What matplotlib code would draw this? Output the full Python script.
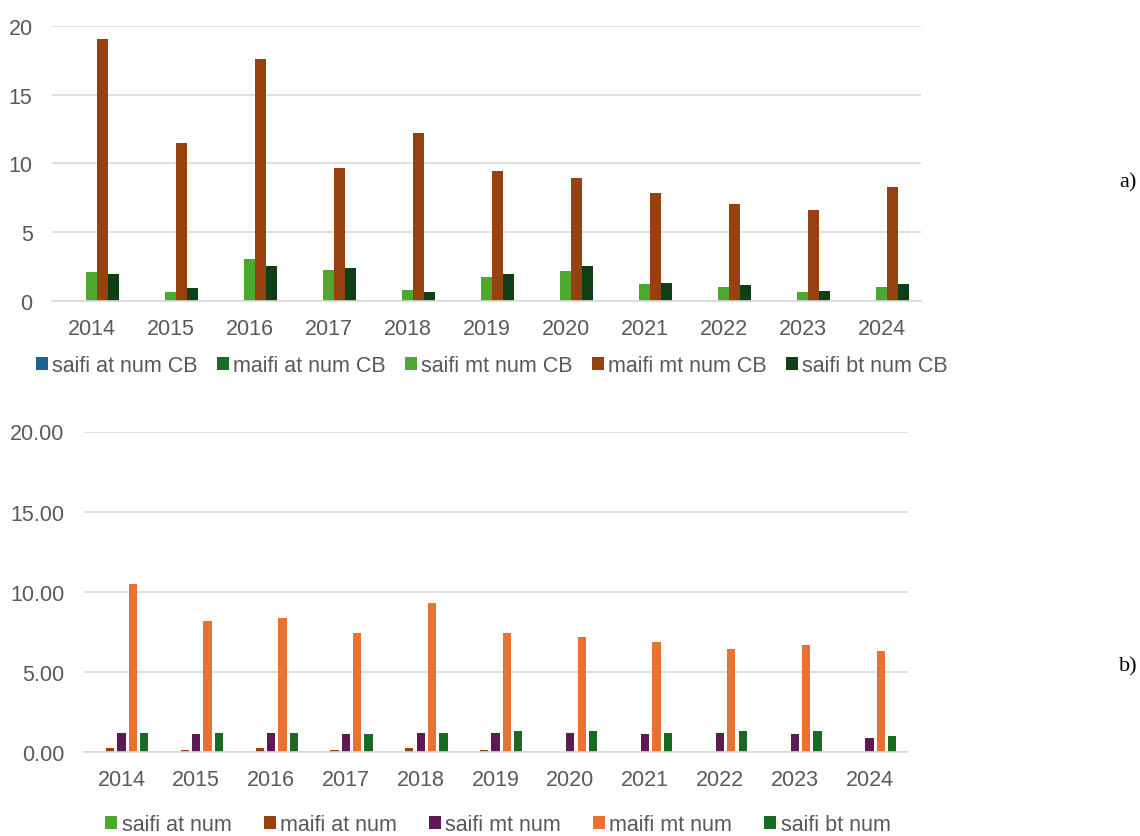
import matplotlib
matplotlib.use("Agg")
import matplotlib.pyplot as plt
import numpy as np

years = ["2014", "2015", "2016", "2017", "2018", "2019", "2020", "2021", "2022", "2023", "2024"]

# panel a) - values per year
saifi_at_cb = [0, 0, 0, 0, 0, 0, 0, 0, 0, 0, 0]
maifi_at_cb = [0, 0, 0, 0, 0, 0, 0, 0, 0, 0, 0]
saifi_mt_cb = [2.13, 0.63, 3.08, 2.25, 0.82, 1.75, 2.16, 1.24, 1.04, 0.63, 1.04]
maifi_mt_cb = [19.0, 11.5, 17.6, 9.67, 12.2, 9.48, 8.97, 7.85, 7.03, 6.64, 8.27]
saifi_bt_cb = [1.94, 0.92, 2.57, 2.38, 0.63, 1.94, 2.57, 1.33, 1.14, 0.73, 1.24]

# panel b)
saifi_at = [0, 0, 0, 0, 0, 0, 0, 0, 0, 0, 0]
maifi_at = [0.25, 0.12, 0.25, 0.12, 0.25, 0.12, 0, 0, 0, 0, 0]
saifi_mt = [1.22, 1.12, 1.22, 1.12, 1.22, 1.22, 1.22, 1.12, 1.22, 1.12, 0.89]
maifi_mt = [10.47, 8.19, 8.39, 7.42, 9.29, 7.42, 7.21, 6.88, 6.44, 6.67, 6.33]
saifi_bt = [1.22, 1.22, 1.22, 1.12, 1.22, 1.33, 1.33, 1.22, 1.33, 1.33, 1.0]

labels_a = ["saifi at num CB", "maifi at num CB", "saifi mt num CB", "maifi mt num CB", "saifi bt num CB"]
colors_a = ["#1f6391", "#1e6b24", "#4ea72e", "#974010", "#0f3f16"]
labels_b = ["saifi at num", "maifi at num", "saifi mt num", "maifi mt num", "saifi bt num"]
colors_b = ["#4ea72e", "#974010", "#5e1a54", "#e97132", "#196b24"]

txt = "#595959"
grid = "#d9d9d9"
plt.rcParams['font.family'] = ['Liberation Sans', 'DejaVu Sans']

fig = plt.figure(figsize=(11.4, 8.37), dpi=100)
W, H = 1140.0, 837.0


def style(ax, fmt, ypad, xpad):
    for s in ["top", "right", "left"]:
        ax.spines[s].set_visible(False)
    ax.spines["bottom"].set_color(grid)
    ax.spines["bottom"].set_linewidth(1.2)
    ax.yaxis.grid(True, color=grid, linewidth=1.2)
    ax.set_axisbelow(True)
    ax.tick_params(axis="both", length=0, labelsize=15.5, colors=txt)
    ax.tick_params(axis="y", pad=ypad)
    ax.tick_params(axis="x", pad=xpad)
    ax.yaxis.set_major_formatter(matplotlib.ticker.FormatStrFormatter(fmt))


x = np.arange(len(years))

# top chart
ax1 = fig.add_axes([52 / W, 1 - 302 / H, (921 - 52) / W, (302 - 26.7) / H])
series_a = [saifi_at_cb, maifi_at_cb, saifi_mt_cb, maifi_mt_cb, saifi_bt_cb]
bw = 0.139
handles = []
for i, (vals, c, lab) in enumerate(zip(series_a, colors_a, labels_a)):
    h = ax1.bar(x + (i - 2) * bw, vals, bw, color=c, label=lab, linewidth=0)
    handles.append(h)
ax1.set_xlim(-0.5, 10.5)
ax1.set_ylim(0, 20)
ax1.set_yticks([0, 5, 10, 15, 20])
ax1.set_xticks(x)
ax1.set_xticklabels(years)
style(ax1, "%d", 14, 12)
fig.legend(handles=handles, labels=labels_a, loc="center",
           bbox_to_anchor=(492 / W, 1 - 367 / H), ncol=5, frameon=False,
           fontsize=15.5, labelcolor=txt, handlelength=0.55, handleheight=0.55,
           handletextpad=0.2, columnspacing=0.9)

# bottom chart
ax2 = fig.add_axes([84 / W, 1 - 753.3 / H, (907 - 84) / W, (753.3 - 432.5) / H])
series_b = [saifi_at, maifi_at, saifi_mt, maifi_mt, saifi_bt]
pitch = 0.152
bw2 = 0.111
handles2 = []
for i, (vals, c, lab) in enumerate(zip(series_b, colors_b, labels_b)):
    h = ax2.bar(x + (i - 2) * pitch, vals, bw2, color=c, label=lab, linewidth=0)
    handles2.append(h)
ax2.set_xlim(-0.5, 10.5)
ax2.set_ylim(0, 20)
ax2.set_yticks([0, 5, 10, 15, 20])
ax2.set_xticks(x)
ax2.set_xticklabels(years)
style(ax2, "%.2f", 14, 12)
fig.legend(handles=handles2, labels=labels_b, loc="center",
           bbox_to_anchor=(498 / W, 1 - 826 / H), ncol=5, frameon=False,
           fontsize=15.5, labelcolor=txt, handlelength=0.55, handleheight=0.55,
           handletextpad=0.2, columnspacing=1.5)

fig.text(1128 / W, 1 - 183 / H, "a)", family=["Liberation Serif"], fontsize=16,
         ha="center", va="center", color="black")
fig.text(1128 / W, 1 - 667 / H, "b)", family=["Liberation Serif"], fontsize=16,
         ha="center", va="center", color="black")

fig.savefig("out.png", dpi=100, facecolor="white")
